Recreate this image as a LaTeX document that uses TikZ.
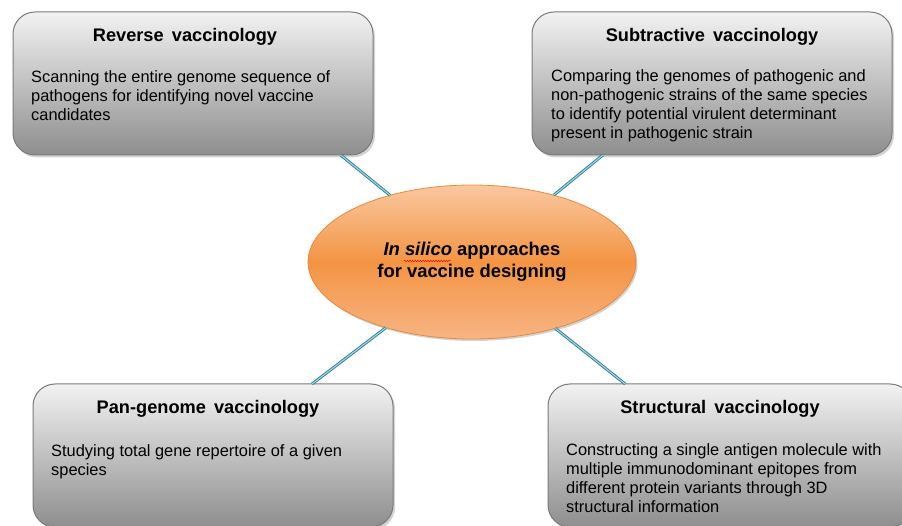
\documentclass[tikz,border=0pt]{standalone}
\usepackage{fontspec}
\setmainfont{Liberation Sans}
\usetikzlibrary{shapes.geometric,shadows,calc,decorations.pathmorphing}
\definecolor{boxline}{HTML}{7A7A7A}
\definecolor{boxtop}{HTML}{F2F2F2}
\definecolor{boxbot}{HTML}{8E8E8E}
\definecolor{elltop}{HTML}{FAC7A0}
\definecolor{ellmid}{HTML}{F39443}
\definecolor{ellbot}{HTML}{F7B483}
\definecolor{ellline}{HTML}{E88A3C}
\definecolor{linkdark}{HTML}{2F7F96}
\definecolor{linklight}{HTML}{9FD6E6}
\begin{document}
\begin{tikzpicture}[x=1pt,y=-1pt,
  box/.style={rectangle, rounded corners=22pt, draw=boxline, line width=1pt,
    minimum width=360pt, minimum height=143pt, top color=boxtop, bottom color=boxbot,
    drop shadow={shadow xshift=2pt,shadow yshift=-2.5pt,opacity=0.35},
    anchor=north west, inner sep=0pt, outer sep=0pt},
  boxtitle/.style={font=\bfseries\fontsize{18.2}{21}\selectfont, inner sep=0pt},
  boxbody/.style={font=\fontsize{16.4}{19}\selectfont, align=left, anchor=north west, inner sep=0pt},
  hub/.style={ellipse, minimum width=328pt, minimum height=154pt, draw=ellline, line width=0.8pt,
    top color=elltop, bottom color=ellbot, middle color=ellmid, inner sep=0pt, outer sep=0pt,
    drop shadow={shadow xshift=1.5pt,shadow yshift=-2pt,opacity=0.35},
    font=\bfseries\fontsize{18.4}{21.5}\selectfont, align=center},
  link/.style={draw=linkdark, double=linklight, line width=0.9pt, double distance=1.1pt}
]
\useasboundingbox (0,0) rectangle (902,526);
\clip (0,0) rectangle (902,526);

% boxes
\node[box] (rev) at (13,12) {};
\node[box] (sub) at (532,12) {};
\node[box] (pan) at (33,384) {};
\node[box, minimum width=364pt] (str) at (548,384) {};

% hub
\node[hub] (hubn) at (472,262) {\textit{In silico} approaches\\for vaccine designing};
\draw[red, line width=0.5pt, decorate, decoration={snake, amplitude=0.7pt, segment length=2.6pt}]
  (404,261) -- (451,261);

% connectors
\draw[link] ($(rev.south west)!0.91!(rev.south east)$) -- (hubn);
\draw[link] ($(sub.south west)!0.197!(sub.south east)$) -- (hubn);
\draw[link] ($(pan.north west)!0.775!(pan.north east)$) -- (hubn);
\draw[link] ($(str.north west)!0.212!(str.north east)$) -- (hubn);

% titles
\node[boxtitle] (revt) at (185,37) {Reverse\hspace{0.45em}vaccinology};
\node[boxtitle] (subt) at (712,37) {Subtractive\hspace{0.45em}vaccinology};
\node[boxtitle] (pant) at (208,409) {Pan-genome\hspace{0.45em}vaccinology};
\node[boxtitle] (strt) at (720,409) {Structural\hspace{0.45em}vaccinology};

% bodies
\node[boxbody] (revb) at (31,70.5) {Scanning the entire genome sequence of\\pathogens for identifying novel vaccine\\candidates};
\node[boxbody] (subb) at (551,69.5) {Comparing the genomes of pathogenic and\\non-pathogenic strains of the same species\\to identify potential virulent determinant\\present in pathogenic strain};
\node[boxbody] (panb) at (51,444.5) {Studying total gene repertoire of a given\\species};
\node[boxbody] (strb) at (566,443.5) {Constructing a single antigen molecule with\\multiple immunodominant epitopes from\\different protein variants through 3D\\structural information};
\end{tikzpicture}
\end{document}
